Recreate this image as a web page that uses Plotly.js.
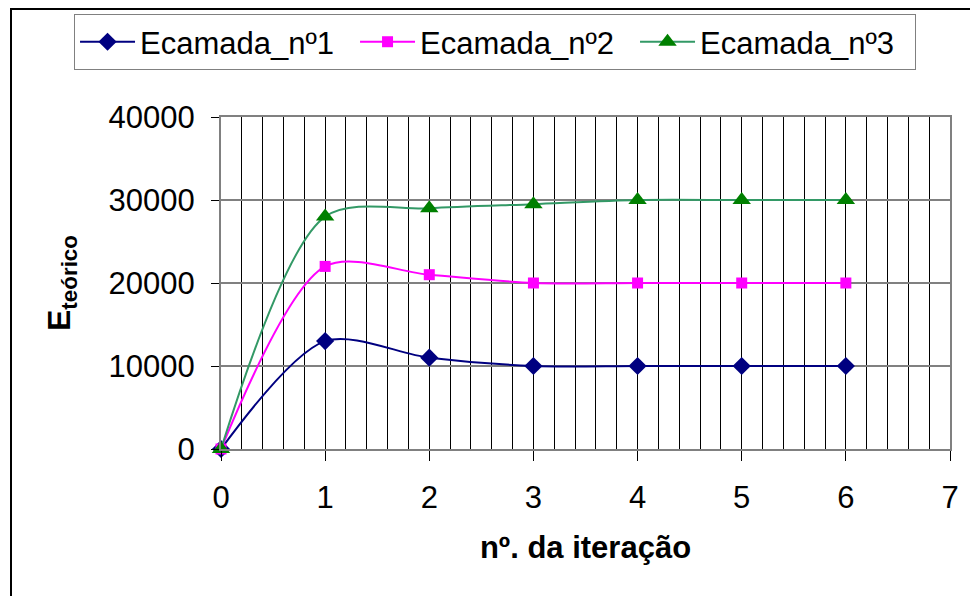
<!DOCTYPE html>
<html>
<head>
<meta charset="utf-8">
<script src="https://cdn.plot.ly/plotly-3.0.1.min.js"></script>
<style>
  html, body { margin: 0; padding: 0; overflow: hidden; background: #fff; }
  #chart { position: absolute; left: 0; top: 0; width: 970px; height: 596px; }
  #frame { position: absolute; left: 10px; top: 8px; width: 1000px; height: 700px;
           border-left: 2px solid #000; border-top: 2px solid #000; pointer-events: none; }
</style>
</head>
<body>
<div id="chart"></div>
<div id="frame"></div>
<script>
// Iteration number and theoretical modulus per layer
const iteracao = [0, 1, 2, 3, 4, 5, 6];
const camada1 = [0, 13000, 11000, 10000, 10000, 10000, 10000];
const camada2 = [0, 22000, 21000, 20000, 20000, 20000, 20000];
const camada3 = [0, 28000, 29000, 29500, 30000, 30000, 30000];
const nomes = ['Ecamada_nº1', 'Ecamada_nº2', 'Ecamada_nº3'];
const yTicks = [0, 10000, 20000, 30000, 40000];
const xTicks = [0, 1, 2, 3, 4, 5, 6, 7];

const FONT = 'Arial, "Liberation Sans", sans-serif';

function serie(y, nome, lineColor, markerColor, symbol, size) {
  return {
    x: iteracao, y: y, name: nome, type: 'scatter', mode: 'lines+markers',
    line: { color: lineColor, width: 2, shape: 'spline', smoothing: 0.85 },
    marker: { color: markerColor, symbol: symbol, size: size },
    cliponaxis: false
  };
}

const data = [
  serie(camada1, nomes[0], '#000080', '#000080', 'diamond', 14),
  serie(camada2, nomes[1], '#FF00FF', '#FF00FF', 'square', 11),
  serie(camada3, nomes[2], '#339966', '#008000', 'triangle-up', 16)
];

const layout = {
  width: 970, height: 596,
  margin: { l: 221, r: 20, t: 117, b: 147 },
  paper_bgcolor: 'rgba(0,0,0,0)', plot_bgcolor: '#fff',
  font: { family: FONT, color: '#000', size: 31 },
  showlegend: true,
  legend: {
    orientation: 'h', xref: 'paper', yref: 'paper',
    x: -0.2016, xanchor: 'left', y: 1.31, yanchor: 'top',
    bordercolor: '#808080', borderwidth: 1, bgcolor: '#fff',
    font: { family: FONT, size: 31, color: '#000' },
    itemwidth: 55, entrywidth: 210, entrywidthmode: 'pixels', tracegroupgap: 0
  },
  xaxis: {
    range: [0, 7], tickvals: xTicks, ticktext: xTicks.map(String),
    ticks: 'outside', ticklen: 10, tickcolor: '#000', tickwidth: 1,
    ticklabelstandoff: 10,
    showgrid: true, gridcolor: '#000', gridwidth: 1,
    minor: { dtick: 0.2, showgrid: true, gridcolor: '#000', gridwidth: 1, ticks: '' },
    showline: true, linecolor: '#808080', linewidth: 2, mirror: true,
    zeroline: false,
    tickfont: { family: FONT, size: 31 },
    title: { text: '<b>nº. da iteração</b>', font: { family: FONT, size: 31 }, standoff: 22 },
    automargin: false
  },
  yaxis: {
    range: [0, 40000], tickvals: yTicks, ticktext: yTicks.map(String),
    ticks: 'outside', ticklen: 8, tickcolor: '#000', tickwidth: 1,
    ticklabelstandoff: 10,
    showgrid: true, gridcolor: '#808080', gridwidth: 2,
    showline: true, linecolor: '#808080', linewidth: 2, mirror: true,
    zeroline: false,
    tickfont: { family: FONT, size: 31 },
    title: { text: '<b>E<sub>teórico</sub></b>', font: { family: FONT, size: 32 }, standoff: 28 },
    automargin: false
  }
};

Plotly.newPlot('chart', data, layout, { displayModeBar: false, staticPlot: true });
</script>
</body>
</html>
